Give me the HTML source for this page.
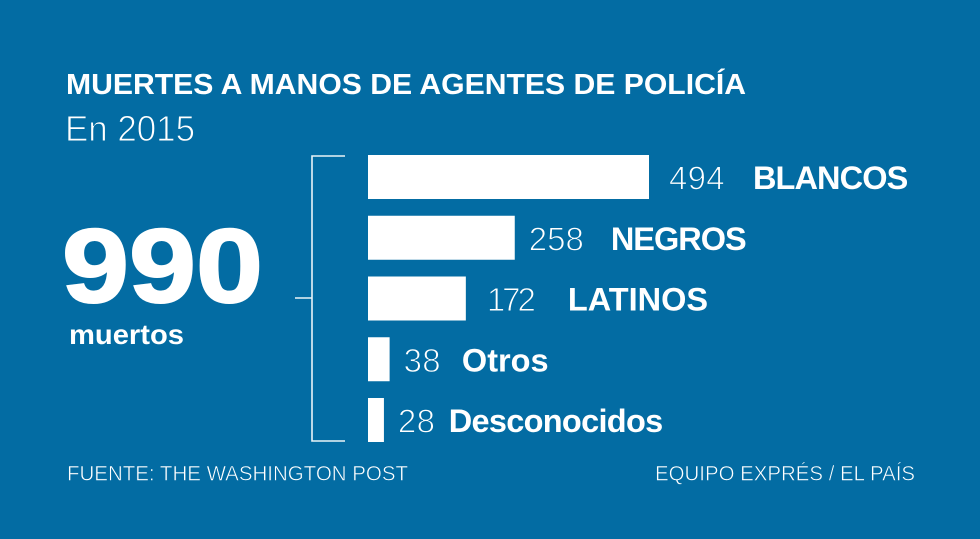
<!DOCTYPE html>
<html lang="es">
<head>
<meta charset="utf-8">
<title>Muertes a manos de agentes de policía</title>
<style>
html,body{margin:0;padding:0;background:#036ca3;}
svg{display:block;}
text{font-family:"Liberation Sans",sans-serif;fill:#fff;}
.b{font-weight:700;}
.l{font-weight:400;stroke:#036ca3;stroke-width:1px;}
.s{font-weight:400;stroke:#036ca3;stroke-width:.55px;}
.h{font-weight:700;stroke:#fff;stroke-width:2px;}
</style>
</head>
<body>
<svg id="chart" width="980" height="539" viewBox="0 0 980 539" xmlns="http://www.w3.org/2000/svg">
  <rect x="0" y="0" width="980" height="539" fill="#036ca3"/>
  <text class="b" x="66" y="94" font-size="29" textLength="680" lengthAdjust="spacingAndGlyphs">MUERTES A MANOS DE AGENTES DE POLICÍA</text>
  <text class="l" x="65" y="141" font-size="36" textLength="130" lengthAdjust="spacingAndGlyphs">En 2015</text>
  <text class="h" x="62" y="302" font-size="105" textLength="201" lengthAdjust="spacingAndGlyphs">990</text>
  <text class="b" x="69" y="344" font-size="28" textLength="115" lengthAdjust="spacingAndGlyphs">muertos</text>
  <path d="M345 156H312V441H345M295 298H312" fill="none" stroke="#eaf3f8" stroke-width="1.6"/>
  <g id="bars"></g>
  <text class="s" x="67" y="480.5" font-size="21.5" textLength="341" lengthAdjust="spacingAndGlyphs">FUENTE: THE WASHINGTON POST</text>
  <text class="s" x="655" y="480.5" font-size="21.5" textLength="260" lengthAdjust="spacingAndGlyphs">EQUIPO EXPRÉS / EL PAÍS</text>
</svg>
<script>
const categories = ["BLANCOS", "NEGROS", "LATINOS", "Otros", "Desconocidos"];
const deaths = [494, 258, 172, 38, 28];

const NS = "http://www.w3.org/2000/svg";
const barLeft = 368;
const pxPerDeath = 281 / 494;
const rowTop = 155;
const rowStep = 60.75;
const barHeight = 44;
// layout only: per-row gaps and letter spacing for the labels
const valueGaps = [20, 14, 21, 14, 14];
const nameGaps = [28, 27, 35, 21, 13.5];
const valueSpacing = [0.3, 0, -3, 0.3, 0.3];
const nameSpacing = [-0.9, -1, 0, 0, -0.7];
const xScale = function (v) { return v * pxPerDeath; };
const yScale = function (i) { return rowTop + i * rowStep; };
const barsGroup = document.getElementById("bars");

deaths.forEach(function (value, i) {
  const y = yScale(i);
  const barEnd = barLeft + xScale(value);

  const bar = document.createElementNS(NS, "rect");
  
  
  bar.setAttribute("x", barLeft);
  bar.setAttribute("y", y);
  bar.setAttribute("width", xScale(value));
  bar.setAttribute("height", barHeight);
  bar.setAttribute("fill", "#fff");
  barsGroup.appendChild(bar);

  const num = document.createElementNS(NS, "text");
  
  
  num.setAttribute("class", "l");
  num.setAttribute("x", barEnd + valueGaps[i]);
  num.setAttribute("y", y + 34.5);
  num.setAttribute("font-size", "33");
  num.setAttribute("letter-spacing", valueSpacing[i]);
  num.textContent = value;
  barsGroup.appendChild(num);

  const name = document.createElementNS(NS, "text");
  
  
  name.setAttribute("class", "b");
  name.setAttribute("x", barEnd + valueGaps[i] + num.getComputedTextLength() + nameGaps[i]);
  name.setAttribute("y", y + 34);
  name.setAttribute("font-size", "32.5");
  name.setAttribute("letter-spacing", nameSpacing[i]);
  name.textContent = categories[i];
  barsGroup.appendChild(name);
});
</script>
</body>
</html>
